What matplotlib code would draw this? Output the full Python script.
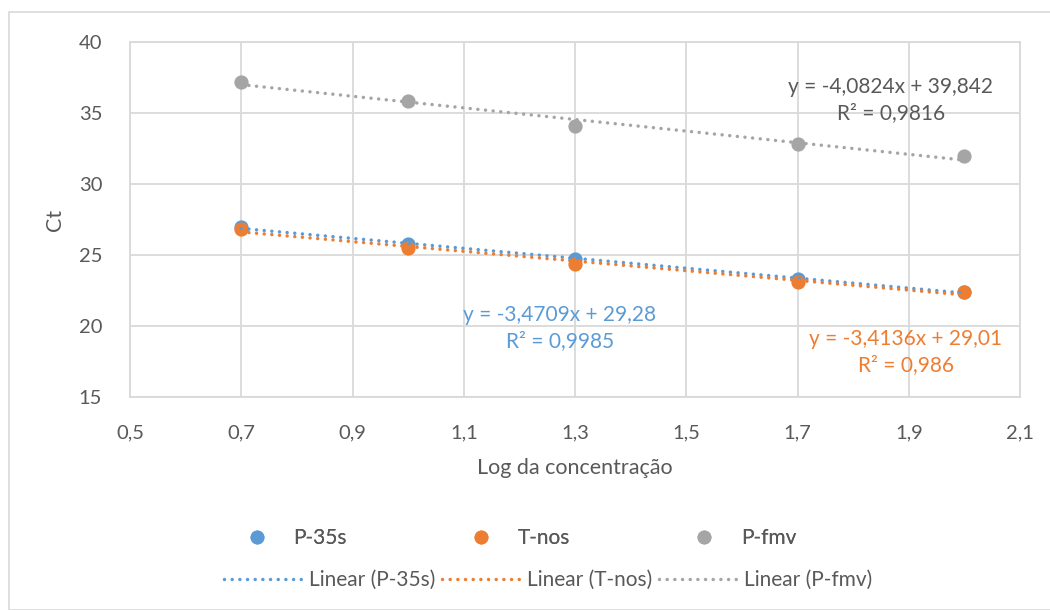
import numpy as np
import matplotlib
matplotlib.use("Agg")
import matplotlib.pyplot as plt
from matplotlib.patches import Rectangle
from matplotlib.lines import Line2D

plt.rcParams['font.family'] = ['Lato', 'DejaVu Sans']

log_conc = [0.7, 1.0, 1.3, 1.7, 2.0]
p35s = [26.95, 25.75, 24.75, 23.3, 22.4]
tnos = [26.85, 25.5, 24.35, 23.1, 22.4]
pfmv = [37.2, 35.85, 34.1, 32.8, 31.95]

series_names = ["P-35s", "T-nos", "P-fmv"]
colors = ["#5B9BD5", "#ED7D31", "#A5A5A5"]
eq_texts = ["y = -3,4709x + 29,28\nR² = 0,9985",
            "y = -3,4136x + 29,01\nR² = 0,986",
            "y = -4,0824x + 39,842\nR² = 0,9816"]
xticks = [0.5, 0.7, 0.9, 1.1, 1.3, 1.5, 1.7, 1.9, 2.1]
yticks = [15, 20, 25, 30, 35, 40]

txt = "#595959"
grid = "#D9D9D9"
dots = (0, (0.01, 2.2))

fig = plt.figure(figsize=(10.5, 6.1), dpi=100)
fig.patches.append(Rectangle((9/1050, 0), 2, 1 - 12/610, transform=fig.transFigure,
                             fill=False, edgecolor="#D9D9D9", lw=1.2))
ax = fig.add_axes([130/1050, 1 - 397/610, 890/1050, 355/610])

x = np.array(log_conc)
for ys, c, name in zip([p35s, tnos, pfmv], colors, series_names):
    ax.scatter(x, ys, s=105, color=c, zorder=3, linewidths=0)
for ys, c in zip([p35s, tnos, pfmv], colors):
    m, b = np.polyfit(x, ys, 1)
    xx = np.array([x.min(), x.max()])
    ax.plot(xx, m * xx + b, color=c, lw=2.5, linestyle=dots,
            dash_capstyle="round", zorder=4)

ax.set_xlim(0.5, 2.1)
ax.set_ylim(15, 40)
ax.set_xticks(xticks)
ax.set_xticklabels([f"{v:.1f}".replace(".", ",") for v in xticks])
ax.set_yticks(yticks)
ax.grid(True, color=grid, lw=1.3, zorder=0)
ax.set_axisbelow(True)
for s in ax.spines.values():
    s.set_color(grid)
    s.set_linewidth(1.3)
ax.tick_params(length=0, labelsize=14.5, colors=txt, pad=20)
ax.tick_params(axis='y', pad=20)
ax.set_xlabel("Log da concentração", fontsize=15.5, color=txt, labelpad=12)
ax.set_ylabel("Ct", fontsize=15.5, color=txt, labelpad=10)

ax.text(1.273, 19.86, eq_texts[0], color=colors[0], fontsize=15, ha="center", va="center",
        linespacing=1.35, zorder=5)
ax.text(1.895, 18.17, eq_texts[1], color=colors[1], fontsize=15, ha="center", va="center",
        linespacing=1.35, zorder=5)
ax.text(1.868, 35.9, eq_texts[2], color=txt, fontsize=15,
        ha="center", va="center", linespacing=1.35, zorder=5)

# legend
h1 = [Line2D([], [], marker='o', linestyle='none', markersize=10, color=c,
             markeredgewidth=0) for c in colors]
h2 = [Line2D([], [], color=c, lw=2.5, linestyle=dots, dash_capstyle="round")
      for c in colors]
leg1 = fig.legend(h1, series_names, loc="center", bbox_to_anchor=(0.494, 1 - 538/610),
                  ncol=3, frameon=False, fontsize=15, labelcolor=txt,
                  columnspacing=5.7, handletextpad=1.0, handlelength=1.5)
fig.legend(h2, ["Linear (P-35s)", "Linear (T-nos)", "Linear (P-fmv)"], loc="center",
           bbox_to_anchor=(0.522, 1 - 580/610), ncol=3, frameon=False, fontsize=15,
           labelcolor=txt, columnspacing=0.3, handletextpad=0.1, handlelength=4.0)
fig.add_artist(leg1)

fig.savefig("out.png", dpi=100, facecolor="white")
